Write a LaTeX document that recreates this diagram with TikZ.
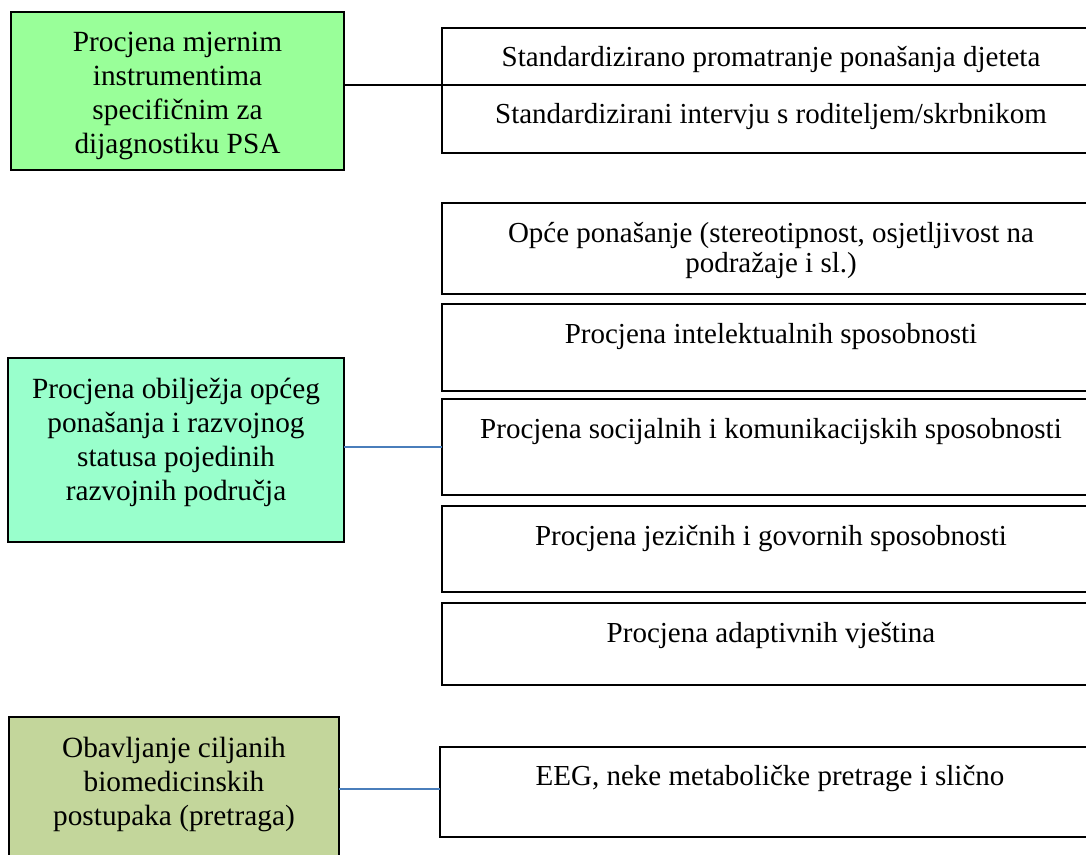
\documentclass[tikz,border=0pt]{standalone}
\usepackage{fontspec}
\setmainfont{Liberation Serif}
\definecolor{greenA}{RGB}{153,255,153}
\definecolor{greenB}{RGB}{153,255,204}
\definecolor{olive}{RGB}{195,214,155}
\definecolor{lineblue}{RGB}{74,126,187}
% width, height, gap, content
\newcommand{\cellbox}[4]{\parbox[c][#2][t]{#1}{\vspace*{#3}\centering #4\par}}
\newcommand{\Lf}{\fontsize{29.3}{34}\selectfont}
\newcommand{\Rf}{\fontsize{29}{30}\selectfont}
\begin{document}
\begin{tikzpicture}[x=1pt,y=-1pt,
  box/.style={draw=black, line width=1.5pt, rectangle, inner sep=0pt, outer sep=0pt, anchor=north west},
  conn/.style={draw=black, line width=1.3pt},
  bconn/.style={draw=lineblue, line width=1.6pt}]
\clip (0,0) rectangle (1086,854);
\fill[white] (0,0) rectangle (1086,854);

% left boxes
\node[box, fill=greenA] (b1) at (11,12)
  {\cellbox{333pt}{158pt}{16pt}{\Lf\strut Procjena mjernim\\instrumentima\\specifičnim za\\dijagnostiku PSA}};
\node[box, fill=greenB] (b2) at (8,358)
  {\cellbox{336pt}{184pt}{17pt}{\Lf\strut Procjena obilježja općeg\\ponašanja i razvojnog\\statusa pojedinih\\razvojnih područja}};
\node[box, fill=olive] (b3) at (9,717)
  {\cellbox{330pt}{150pt}{17pt}{\Lf\strut Obavljanje ciljanih\\biomedicinskih\\postupaka (pretraga)}};

% right boxes
\node[box] (r1) at (442,28)
  {\cellbox{658pt}{57pt}{17pt}{\Rf\strut Standardizirano promatranje ponašanja djeteta}};
\node[box] (r2) at (442,85)
  {\cellbox{658pt}{68pt}{17pt}{\Rf\strut Standardizirani intervju s roditeljem/skrbnikom}};
\node[box] (r3) at (442,203)
  {\cellbox{658pt}{91pt}{18pt}{\Rf\strut Opće ponašanje (stereotipnost, osjetljivost na\\podražaje i sl.)}};
\node[box] (r4) at (442,304)
  {\cellbox{658pt}{87pt}{18pt}{\Rf\strut Procjena intelektualnih sposobnosti}};
\node[box] (r5) at (442,399)
  {\cellbox{658pt}{96pt}{18pt}{\Rf\strut Procjena socijalnih i komunikacijskih sposobnosti}};
\node[box] (r6) at (442,506)
  {\cellbox{658pt}{86pt}{18pt}{\Rf\strut Procjena jezičnih i govornih sposobnosti}};
\node[box] (r7) at (442,603)
  {\cellbox{658pt}{82pt}{18pt}{\Rf\strut Procjena adaptivnih vještina}};
\node[box] (r8) at (440,747)
  {\cellbox{660pt}{90pt}{17pt}{\Rf\strut EEG, neke metaboličke pretrage i slično}};

% connectors
\draw[conn] (r1.south west -| b1.east) -- (r1.south west);
\draw[bconn] (b2.east |- r5.west) -- (r5.west);
\path ([yshift=3pt]r8.west) coordinate (e3);
\draw[bconn] (e3 -| b3.east) -- (e3);
\end{tikzpicture}
\end{document}
